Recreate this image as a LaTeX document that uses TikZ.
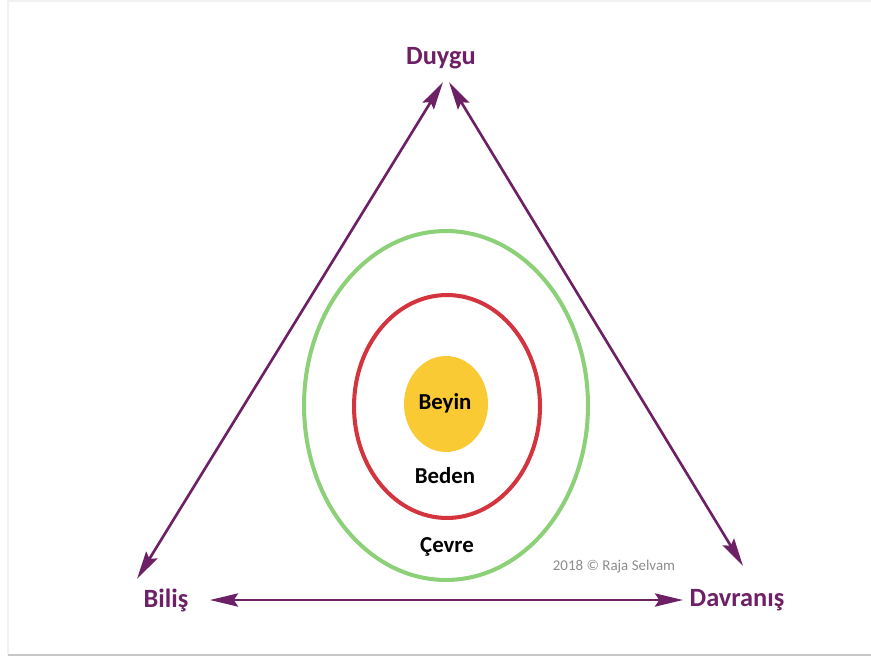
\documentclass[tikz,border=0pt]{standalone}
\usepackage{fontspec}
\setmainfont{Carlito}
\usepackage{xcolor}
\usetikzlibrary{arrows.meta}
\usetikzlibrary{shapes.geometric}
\usetikzlibrary{positioning}
\definecolor{mor}{RGB}{110,32,102}
\definecolor{yesil}{RGB}{140,208,120}
\definecolor{kirmizi}{RGB}{212,52,62}
\definecolor{sari}{RGB}{250,202,52}
\tikzset{
  kose/.style={font=\fontsize{15}{18}\selectfont\bfseries, text=mor},
  ic/.style={font=\fontsize{13}{16}\selectfont\bfseries, text=black},
  halka/.style={draw, ellipse, line width=2.3pt, minimum width=#1},
  ok/.style={{Stealth[length=16pt,width=7.5pt,inset=2.5pt]}-{Stealth[length=16pt,width=7.5pt,inset=2.5pt]}, line width=1.5pt, mor},
}
\begin{document}
\begin{tikzpicture}[x=0.02cm, y=-0.02cm]
  \useasboundingbox (0,0) rectangle (871,658);
  % frame
  \draw[black!5, line width=0.6pt] (8,655) -- (8,1) -- (871,1);
  \draw[black!22, line width=1.6pt] (8,655) -- (871,655);
  % circles
  \node[halka=5.68cm, minimum height=6.98cm, yesil] (cevreh) at (446,405.5) {};
  \node[halka=3.72cm, minimum height=4.46cm, kirmizi] (bedenh) at (447,406.5) {};
  \node[ellipse, fill=sari, minimum width=1.68cm, minimum height=1.92cm, inner sep=0pt] (beyinh) at (446,404) {};
  \node[ic] (beyin) at (445,403) {Beyin};
  \node[ic] (beden) at (445,476) {Beden};
  \node[ic] (cevre) at (447,547) {Çevre};
  % corners
  \node[kose] (duygu) at (441,58) {Duygu};
  \node[kose] (bilis) at (166,600) {Biliş};
  \node[kose] (davranis) at (737,600) {Davranış};
  \coordinate (tepeS) at (443,82);
  \coordinate (tepeD) at (449,82);
  \coordinate (solA) at (137,579);
  \coordinate (sagA) at (743,566);
  \coordinate (altS) at (210,600);
  \coordinate (altD) at (683,600);
  \draw[ok] (solA) -- (tepeS);
  \draw[ok] (sagA) -- (tepeD);
  \draw[ok] (altS) -- (altD);
  \node[font=\fontsize{8.5}{10}\selectfont, text=black!45] (telif) at (614,567) {2018 © Raja Selvam};
\end{tikzpicture}
\end{document}
